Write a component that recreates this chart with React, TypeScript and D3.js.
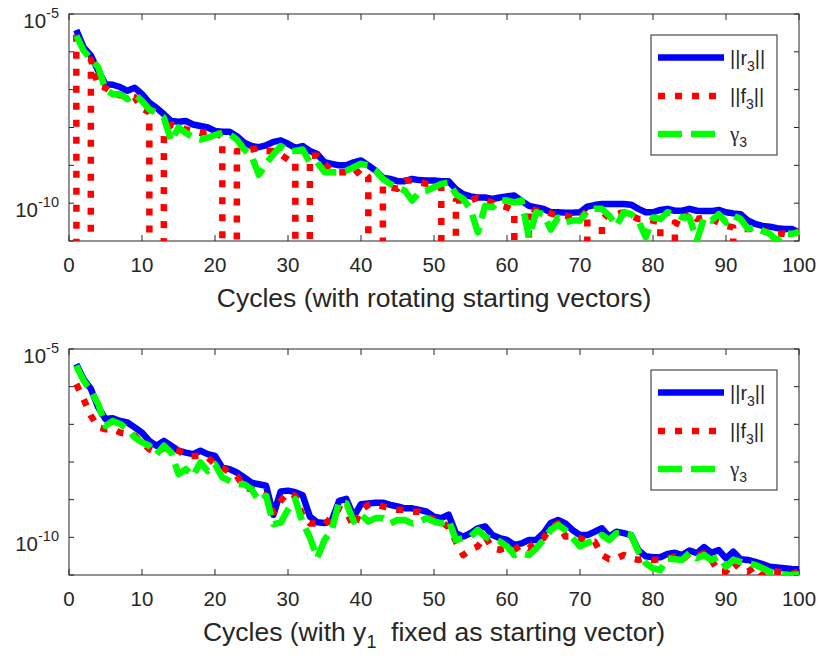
import React from 'react';
import * as d3 from 'd3';

// Cycle index shared by every series
const cycles = d3.range(1, 101);

// Values are stored as log10 of the quantity; -300 marks cycles where ||f3|| vanishes
const T = -300;

// Rotating starting vectors
const rotR3 = [
  -5.42, -5.88, -6.1, -6.5, -6.86, -6.87, -6.93, -7.03, -6.95, -7.12,
  -7.34, -7.48, -7.65, -7.83, -7.85, -7.83, -7.92, -7.96, -8.0, -8.09,
  -8.11, -8.11, -8.23, -8.4, -8.49, -8.52, -8.47, -8.38, -8.34, -8.43,
  -8.54, -8.49, -8.62, -8.7, -8.92, -8.96, -9.0, -9.0, -8.92, -8.87,
  -9.0, -9.14, -9.33, -9.36, -9.42, -9.42, -9.36, -9.39, -9.4, -9.4,
  -9.42, -9.42, -9.63, -9.76, -9.82, -9.85, -9.85, -9.89, -9.85, -9.82,
  -9.8, -9.94, -10.07, -10.11, -10.15, -10.24, -10.24, -10.25, -10.25, -10.24,
  -10.09, -10.05, -10.02, -10.02, -10.02, -10.02, -10.04, -10.15, -10.24, -10.24,
  -10.18, -10.15, -10.2, -10.2, -10.15, -10.2, -10.21, -10.21, -10.18, -10.24,
  -10.27, -10.29, -10.46, -10.55, -10.6, -10.62, -10.66, -10.68, -10.68, -10.77,
];
const rotF3 = [
  -5.55, T, -6.2, -6.9, -6.95, -7.1, -7.15, -7.15, -7.2, -7.5,
  -7.6, T, -8.15, -7.92, -7.96, -8.05, -8.09, -8.14, -8.11, -8.09,
  -8.27, T, -8.62, -8.62, -8.58, -8.54, -8.62, -8.62, -8.71, -8.85,
  -8.89, T, -8.75, -8.74, -8.96, -9.14, -9.18, -9.18, -9.27, -9.1,
  -9.31, T, -9.53, -9.58, -9.62, -9.4, -9.4, -9.45, -9.49, -9.49,
  -9.6, T, -9.93, -9.93, -9.93, -9.85, -9.93, -9.98, -10.06, -10.11,
  -10.2, T, -10.11, -10.2, -10.2, -10.27, -10.33, -10.33, -10.38, -10.38,
  -10.2, T, -10.45, -10.24, -10.29, -10.24, -10.33, -10.42, -10.42, -10.46,
  -10.51, T, -10.51, -10.6, -10.24, -10.42, -10.38, -10.42, -10.51, -10.6,
  -10.64, T, -10.68, -10.68, -10.73, -10.77, -10.81, -10.81, -10.86, -10.73,
];
const rotG3 = [
  -5.57, -5.97, -6.19, -6.41, -6.99, -7.12, -7.12, -7.25, -7.12, -7.3,
  -7.52, -7.61, -7.74, -8.36, -8.0, -8.14, -8.27, -8.32, -8.27, -8.2,
  -8.14, -8.18, -8.32, -8.58, -8.75, -9.25, -8.95, -8.71, -8.49, -8.62,
  -8.62, -8.58, -8.93, -8.92, -9.18, -9.18, -9.18, -9.14, -9.05, -8.96,
  -9.0, -9.14, -9.36, -9.49, -9.58, -9.67, -9.93, -9.71, -9.67, -9.58,
  -9.49, -9.45, -9.76, -9.89, -10.16, -10.77, -10.07, -10.11, -9.93, -9.93,
  -9.98, -9.93, -10.9, -10.24, -10.29, -10.7, -10.38, -10.51, -10.46, -10.46,
  -10.2, -10.15, -10.15, -10.33, -10.6, -10.24, -10.29, -10.46, -10.9, -10.38,
  -10.42, -10.24, -10.29, -10.38, -10.38, -10.99, -10.38, -10.46, -10.29, -10.51,
  -10.33, -10.42, -10.68, -10.64, -10.73, -10.81, -10.99, -10.81, -10.81, -10.77,
];

// y1 fixed as starting vector
const fixR3 = [
  -5.4, -5.8, -6.06, -6.55, -6.86, -6.84, -6.91, -6.95, -7.08, -7.22,
  -7.44, -7.57, -7.44, -7.57, -7.7, -7.75, -7.79, -7.7, -7.79, -7.84,
  -8.15, -8.19, -8.28, -8.41, -8.55, -8.59, -8.63, -9.4, -8.78, -8.76,
  -8.8, -8.88, -9.45, -9.6, -9.62, -9.55, -9.03, -8.98, -9.45, -9.12,
  -9.1, -9.08, -9.08, -9.14, -9.18, -9.23, -9.23, -9.27, -9.32, -9.45,
  -9.49, -9.4, -9.89, -9.98, -9.89, -9.76, -9.71, -9.94, -10.02, -10.07,
  -10.2, -10.16, -10.07, -10.07, -9.89, -9.62, -9.54, -9.63, -9.81, -9.94,
  -9.94, -9.85, -9.76, -9.98, -9.85, -9.89, -9.94, -10.34, -10.5, -10.53,
  -10.53, -10.44, -10.41, -10.47, -10.35, -10.42, -10.26, -10.41, -10.34, -10.56,
  -10.38, -10.58, -10.6, -10.65, -10.71, -10.78, -10.8, -10.82, -10.84, -10.85,
];
const fixF3 = [
  -5.93, -6.33, -6.77, -7.08, -7.13, -7.12, -7.22, -7.26, -7.3, -7.48,
  -7.66, -7.75, -7.62, -7.66, -7.7, -7.84, -7.84, -7.84, -7.88, -8.06,
  -8.15, -8.28, -8.37, -8.68, -8.72, -8.81, -8.9, -9.34, -9.03, -8.81,
  -8.9, -9.43, -9.63, -9.63, -9.67, -9.45, -9.23, -9.32, -9.72, -9.27,
  -9.14, -9.11, -9.18, -9.23, -9.27, -9.27, -9.32, -9.32, -9.45, -9.52,
  -9.58, -9.73, -10.11, -10.47, -10.33, -10.24, -9.98, -10.29, -10.33, -10.28,
  -10.33, -10.2, -10.29, -10.11, -10.02, -9.74, -9.63, -9.98, -9.98, -10.02,
  -10.11, -10.11, -10.47, -10.58, -10.56, -10.47, -10.56, -10.6, -10.56, -10.6,
  -10.58, -10.56, -10.51, -10.6, -10.42, -10.51, -10.42, -10.6, -10.91, -10.91,
  -10.65, -10.87, -10.91, -10.78, -11.0, -10.87, -10.91, -10.96, -10.96, -10.91,
];
const fixG3 = [
  -5.44, -5.84, -6.11, -6.46, -7.04, -6.91, -6.99, -7.13, -7.35, -7.48,
  -7.57, -7.79, -7.57, -7.75, -8.32, -8.19, -8.37, -8.01, -8.24, -8.06,
  -8.41, -8.5, -8.59, -8.59, -8.72, -9.03, -8.9, -9.65, -9.61, -9.26,
  -8.99, -9.61, -10.0, -10.55, -10.07, -9.8, -9.05, -9.1, -9.58, -9.4,
  -9.58, -9.49, -9.49, -9.63, -9.54, -9.54, -9.63, -9.58, -9.49, -9.58,
  -9.63, -9.54, -10.07, -10.02, -9.98, -9.8, -9.98, -10.07, -10.11, -10.24,
  -10.47, -10.42, -10.47, -10.29, -10.07, -9.8, -9.67, -9.81, -10.02, -10.24,
  -10.15, -10.07, -9.94, -10.07, -9.89, -9.89, -9.94, -10.38, -10.69, -10.82,
  -10.87, -10.56, -10.58, -10.6, -10.41, -10.56, -10.47, -10.6, -10.51, -10.78,
  -10.6, -10.65, -10.69, -10.73, -10.82, -10.91, -10.96, -11.0, -11.0, -10.98,
];

// Axis ticks
const xTicks = d3.range(0, 101, 10);
const yDecades = [-11, -10, -9, -8, -7, -6, -5];
const yLabelled = [-10, -5];

const FONT = "'Liberation Sans', Arial, Helvetica, sans-serif";
const GREEK = "'Liberation Serif', 'DejaVu Serif', serif";
const INK = '#262626';
const LW = 6.5;

const styles = [
  { color: '#0000ff', dash: undefined as string | undefined },
  { color: '#ff0000', dash: '7 10' },
  { color: '#00ff00', dash: '24 9' },
];

type PanelProps = {
  id: string;
  top: number;
  bottom: number;
  r: number[];
  f: number[];
  g: number[];
  xlabel: React.ReactNode;
};

const LEFT = 69;
const RIGHT = 799;

function Panel({ id, top, bottom, r, f, g, xlabel }: PanelProps) {
  const x = d3.scaleLinear().domain([0, 100]).range([LEFT, RIGHT]);
  const y = d3.scaleLog().domain([1e-11, 1e-5]).range([bottom, top]);
  const line = d3
    .line<[number, number]>()
    .x((d) => x(d[0]))
    .y((d) => y(d[1]));
  const pts = (arr: number[]) =>
    cycles.map((c, i) => [c, Math.pow(10, arr[i])] as [number, number]);
  const series = [r, f, g];

  const legX = 651;
  const legY = top + 21;
  const legW = 126;
  const legH = 120;
  const rows = [top + 43.5, top + 82, top + 120];

  return (
    <g>
      <defs>
        <clipPath id={id}>
          <rect x={LEFT} y={top} width={RIGHT - LEFT} height={bottom - top} />
        </clipPath>
      </defs>
      {/* axes box */}
      <rect x={LEFT} y={top} width={RIGHT - LEFT} height={bottom - top} fill="#fff" stroke={INK} strokeWidth={1} />
      {xTicks.map((t) => (
        <g key={'x' + t}>
          <line x1={x(t)} x2={x(t)} y1={bottom} y2={bottom - 6} stroke={INK} />
          <line x1={x(t)} x2={x(t)} y1={top} y2={top + 6} stroke={INK} />
          <text x={x(t)} y={bottom + 31} textAnchor="middle" fontSize={20.5} fill={INK} fontFamily={FONT}>
            {t}
          </text>
        </g>
      ))}
      {yDecades.map((e) => (
        <g key={'y' + e}>
          <line x1={LEFT} x2={LEFT + 5} y1={y(Math.pow(10, e))} y2={y(Math.pow(10, e))} stroke={INK} />
          <line x1={RIGHT} x2={RIGHT - 5} y1={y(Math.pow(10, e))} y2={y(Math.pow(10, e))} stroke={INK} />
        </g>
      ))}
      {yLabelled.map((e) => (
        <text key={'yl' + e} x={59} y={y(Math.pow(10, e)) + 14} textAnchor="end" fill={INK} fontFamily={FONT} fontSize={20.5}>
          10
          <tspan fontSize={14.5} dy={-10}>{String(e)}</tspan>
        </text>
      ))}
      {/* series */}
      <g clipPath={`url(#${id})`}>
        {series.map((s, i) => (
          <path
            key={i}
            d={line(pts(s)) || ''}
            fill="none"
            stroke={styles[i].color}
            strokeWidth={LW}
            strokeDasharray={styles[i].dash}
            strokeLinecap="butt"
            strokeLinejoin="round"
          />
        ))}
      </g>
      <text x={(LEFT + RIGHT) / 2} y={bottom + 66} textAnchor="middle" fontSize={26.5} fill={INK} fontFamily={FONT}>
        {xlabel}
      </text>
      {/* legend */}
      <rect x={legX} y={legY} width={legW} height={legH} fill="#fff" stroke={INK} strokeWidth={1} />
      {rows.map((ry, i) => (
        <line
          key={'ls' + i}
          x1={658}
          x2={724}
          y1={ry}
          y2={ry}
          stroke={styles[i].color}
          strokeWidth={LW}
          strokeDasharray={styles[i].dash}
          strokeLinecap="butt"
        />
      ))}
      <text x={730} y={rows[0] + 7} fontSize={20} fill={INK} fontFamily={FONT}>
        ||r<tspan fontSize={14} dy={6}>3</tspan><tspan dy={-6}>||</tspan>
      </text>
      <text x={730} y={rows[1] + 7} fontSize={20} fill={INK} fontFamily={FONT}>
        ||f<tspan fontSize={14} dy={6}>3</tspan><tspan dy={-6}>||</tspan>
      </text>
      <text x={730} y={rows[2] + 7} fontSize={20} fill={INK} fontFamily={FONT}>
        <tspan fontFamily={GREEK} fontSize={21}>γ</tspan>
        <tspan fontSize={14} dy={6}>3</tspan>
      </text>
    </g>
  );
}

export default function App() {
  return (
    <svg
      width={819}
      height={656}
      viewBox="0 0 819 656"
      style={{ position: 'absolute', left: 0, top: 0, background: '#fff' }}
    >
      <rect x={0} y={0} width={819} height={656} fill="#fff" />
      <Panel
        id="clip-rot"
        top={14}
        bottom={241}
        r={rotR3}
        f={rotF3}
        g={rotG3}
        xlabel={<>Cycles (with rotating starting vectors)</>}
      />
      <Panel
        id="clip-fix"
        top={349}
        bottom={575}
        r={fixR3}
        f={fixF3}
        g={fixG3}
        xlabel={
          <>
            Cycles (with y<tspan fontSize={18} dy={7}>1</tspan>
            <tspan dy={-7}>{'\u00a0 fixed as starting vector)'}</tspan>
          </>
        }
      />
    </svg>
  );
}
